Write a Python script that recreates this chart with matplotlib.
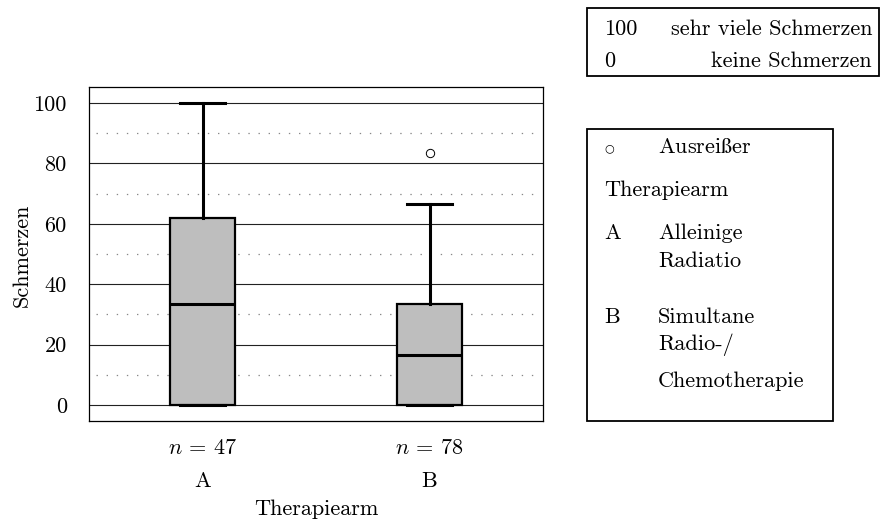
import matplotlib
matplotlib.use('Agg')
import matplotlib.pyplot as plt
from matplotlib.patches import Rectangle
import matplotlib.transforms as mtransforms

# ---------- data ----------
arms = ['A', 'B']
n_counts = [47, 78]
whislo = [0.0, 0.0]
q1 = [0.0, 0.0]
med = [33.3, 16.7]
q3 = [62.0, 33.3]
whishi = [100.0, 66.7]
fliers = [[], [83.3]]
major_ticks = [0, 20, 40, 60, 80, 100]
minor_lines = [10, 30, 50, 70, 90]

# ---------- style ----------
plt.rcParams['font.family'] = ['cmr10', 'DejaVu Serif']
plt.rcParams['mathtext.fontset'] = 'cm'
plt.rcParams['axes.unicode_minus'] = False
FS = 16

fig = plt.figure(figsize=(8.8, 5.22), dpi=100)
ax = fig.add_axes([89 / 880, 1 - 421 / 522, 454 / 880, 334 / 522])

stats = []
for i in range(len(arms)):
    stats.append(dict(med=med[i], q1=q1[i], q3=q3[i], whislo=whislo[i],
                      whishi=whishi[i], fliers=fliers[i]))

ax.bxp(stats, positions=[1, 2], widths=0.29, patch_artist=True,
       boxprops=dict(facecolor='#bebebe', edgecolor='black', linewidth=1.6),
       medianprops=dict(color='black', linewidth=2.2),
       whiskerprops=dict(color='black', linewidth=2.2),
       capprops=dict(color='black', linewidth=2.2),
       capwidths=0.2,
       flierprops=dict(marker='o', markersize=6, markerfacecolor='white',
                       markeredgecolor='black', markeredgewidth=0.7),
       zorder=3)

for y in major_ticks:
    ax.axhline(y, color='#222222', linewidth=0.8, zorder=1)
for y in minor_lines:
    ax.plot([0.53, 2.47], [y, y], color='#888888', linewidth=0.9,
            linestyle=(0, (1.1, 7)), zorder=1)

ax.set_xlim(0.5, 2.5)
ax.set_ylim(-5.3, 105.3)
ax.set_yticks(major_ticks)
ax.set_yticklabels([str(t) for t in major_ticks], fontsize=FS)
ax.set_xticks([])
ax.tick_params(axis='y', length=0, pad=16)
for s in ax.spines.values():
    s.set_linewidth(0.9)

fig.text(22 / 880, 1 - 255 / 522, 'Schmerzen', rotation=90, ha='center',
         va='center', fontsize=FS)

trans = mtransforms.blended_transform_factory(ax.transData, fig.transFigure)
for i, a in enumerate(arms):
    ax.text(i + 1, 1 - 448 / 522, f'$n$ = {n_counts[i]}', transform=trans,
            ha='center', va='center', fontsize=FS)
    ax.text(i + 1, 1 - 481 / 522, a, transform=trans,
            ha='center', va='center', fontsize=FS)
fig.text(316 / 880, 1 - 509 / 522, 'Therapiearm', ha='center', va='center',
         fontsize=FS)

# ---------- legend boxes ----------
def fy(py):
    return 1 - py / 522

fig.patches.append(Rectangle((587 / 880, fy(76)), 292 / 880, 68 / 522,
                             transform=fig.transFigure, fill=False,
                             edgecolor='black', linewidth=1.3))
fig.text(604 / 880, fy(29), '100', ha='left', va='center', fontsize=FS)
fig.text(872 / 880, fy(29), 'sehr viele Schmerzen', ha='right', va='center', fontsize=FS)
fig.text(604 / 880, fy(61), '0', ha='left', va='center', fontsize=FS)
fig.text(872 / 880, fy(61), 'keine Schmerzen', ha='right', va='center', fontsize=FS)

fig.patches.append(Rectangle((587 / 880, fy(421)), 246 / 880, 292 / 522,
                             transform=fig.transFigure, fill=False,
                             edgecolor='black', linewidth=1.3))
fig.text(604 / 880, fy(148), '\u25cb', ha='left', va='center', fontsize=8,
         family='DejaVu Sans')
fig.text(658 / 880, fy(147), r'Ausrei$\mathrm{\ss}$er', ha='left', va='center', fontsize=FS)
fig.text(604 / 880, fy(190), 'Therapiearm', ha='left', va='center', fontsize=FS)
fig.text(604 / 880, fy(233), 'A', ha='left', va='center', fontsize=FS)
fig.text(658 / 880, fy(233), 'Alleinige', ha='left', va='center', fontsize=FS)
fig.text(658 / 880, fy(261), 'Radiatio', ha='left', va='center', fontsize=FS)
fig.text(604 / 880, fy(317), 'B', ha='left', va='center', fontsize=FS)
fig.text(658 / 880, fy(317), 'Simultane', ha='left', va='center', fontsize=FS)
fig.text(658 / 880, fy(345), 'Radio-/', ha='left', va='center', fontsize=FS)
fig.text(658 / 880, fy(381), 'Chemotherapie', ha='left', va='center', fontsize=FS)

fig.savefig('out.png', dpi=100, facecolor='white')
